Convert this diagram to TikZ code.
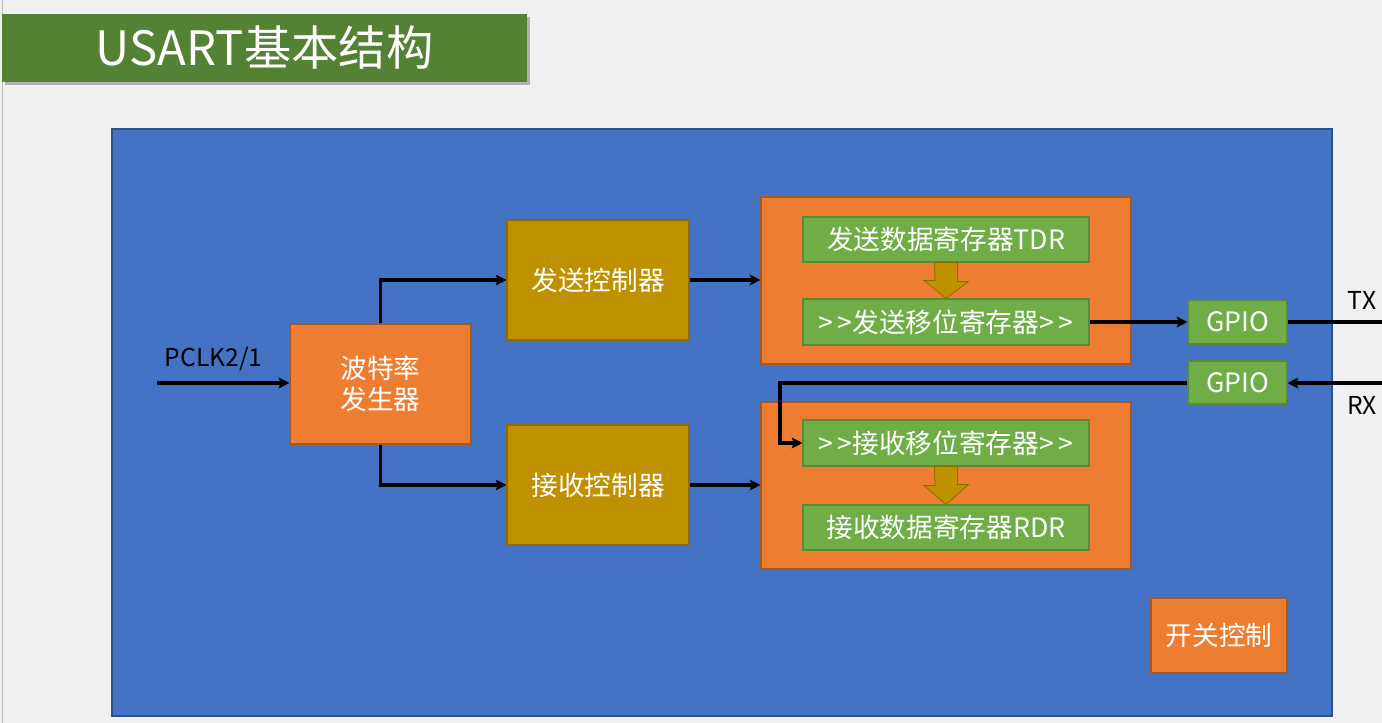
\documentclass[tikz,border=0pt]{standalone}
\usepackage{fontspec}
\setmainfont{Noto Sans CJK SC}
\usetikzlibrary{calc, positioning, arrows.meta, shadows}

\definecolor{pagebg}{HTML}{F0F0F0}
\definecolor{titlegreen}{HTML}{548235}
\definecolor{chipblue}{HTML}{4472C4}
\definecolor{boxorange}{HTML}{ED7D31}
\definecolor{boxgold}{HTML}{BF9000}
\definecolor{boxgreen}{HTML}{70AD47}

\tikzset{
  blk/.style 2 args={draw, line width=0.8pt, text=white, inner sep=0pt,
    minimum width=#1*0.75pt, minimum height=#2*0.75pt,
    font=\fontsize{20}{23}\selectfont, align=center},
  orangebox/.style 2 args={blk={#1}{#2}, fill=boxorange, draw=boxorange!70!black},
  goldbox/.style 2 args={blk={#1}{#2}, fill=boxgold, draw=boxgold!75!black},
  greenbox/.style 2 args={blk={#1}{#2}, fill=boxgreen, draw=boxgreen!80!black},
  arr/.style={line width=2.4pt, -{Stealth[length=8pt,width=8pt,inset=1.5pt]}},
  wire/.style={line width=2.4pt},
  pinlabel/.style={font=\fontsize{18.5}{21}\selectfont},
  bigarrow/.style={fill=boxgold, draw=boxgold!75!black, line width=0.6pt}
}

\begin{document}
\begin{tikzpicture}[x=0.75pt, y=-0.75pt]
  % page
  \fill[pagebg] (0,0) rectangle (1382,723);
  \useasboundingbox (0,0) rectangle (1382,723);
  \draw[black!25] (2,0) -- (2,723);

  % title bar
  \node[fill=titlegreen, text=white, minimum width=525*0.75pt, minimum height=68*0.75pt,
    inner sep=0pt, font=\fontsize{35.5}{40}\selectfont,
    drop shadow={shadow xshift=2pt, shadow yshift=-2pt, opacity=0.45, fill=black!60}]
    (title) at (264.5,48) {USART基本结构};

  % chip body
  \node[fill=chipblue, draw=chipblue!70!black, line width=0.8pt, inner sep=0pt,
    minimum width=1220*0.75pt, minimum height=587*0.75pt] (usart) at (722,422.5) {};

  % clock and controllers
  \node[orangebox={181}{120}] (baud) at (380.5,384) {波特率\\发生器};
  \node[goldbox={182}{120}] (txctl) at (598,280) {发送控制器};
  \node[goldbox={182}{120}] (rxctl) at (598,485) {接收控制器};

  % transmit side
  \node[orangebox={370}{167}] (txgrp) at (946,280.5) {};
  \node[greenbox={286}{45}] (tdr) at (946,239.5) {发送数据寄存器TDR};
  \node[greenbox={286}{46}] (txsr) at (946,322) {>\,>发送移位寄存器>\,>};

  % receive side
  \node[orangebox={370}{167}] (rxgrp) at (946,485.5) {};
  \node[greenbox={286}{46}] (rxsr) at (946,443) {>\,>接收移位寄存器>\,>};
  \node[greenbox={286}{45}] (rdr) at (946,527.5) {接收数据寄存器RDR};

  % pins
  \node[greenbox={99}{44}] (gpiotx) at (1237.5,322) {GPIO};
  \node[greenbox={99}{43}] (gpiorx) at (1237.5,382.5) {GPIO};
  \node[orangebox={136}{75}] (onoff) at (1219,635.5) {开关控制};

  % block arrows between registers
  \draw[bigarrow] ($(tdr.south)+(-11.5,0)$) -- ++(23,0) -- ++(0,19) -- ++(11,0)
    -- (txsr.north) -- ++(-22,-18) -- ++(11,0) -- cycle;
  \draw[bigarrow] ($(rxsr.south)+(-11.5,0)$) -- ++(23,0) -- ++(0,18) -- ++(11,0)
    -- (rdr.north) -- ++(-22,-19) -- ++(11,0) -- cycle;

  % clock input
  \coordinate (clkin) at (157,383);
  \draw[arr] (clkin) -- (baud.west |- clkin);
  \node[pinlabel, anchor=south west] (clklbl) at (160,376) {PCLK2/1};

  % baud rate to controllers
  \draw[arr] (baud.north) |- (txctl.west);
  \draw[arr] (baud.south) |- (rxctl.west);
  \draw[arr] (txctl.east) -- (txgrp.west |- txctl.east);
  \draw[arr] (rxctl.east) -- (rxgrp.west |- rxctl.east);

  % TX pin
  \draw[arr] (txsr.east) -- (gpiotx.west);
  \coordinate (txout) at (1382,322);
  \draw[wire] (gpiotx.east) -- (txout);
  \node[pinlabel, anchor=south] (txlbl) at (1362,314) {TX};

  % RX pin
  \coordinate (rxin) at (1382,383);
  \coordinate (rxbend) at (780,383);
  \draw[arr] (rxin) -- (gpiorx.east |- rxin);
  \node[pinlabel, anchor=north] (rxlbl) at (1362,392) {RX};
  \draw[arr] (gpiorx.west |- rxbend) -- (rxbend) |- (rxsr.west);
\end{tikzpicture}
\end{document}
